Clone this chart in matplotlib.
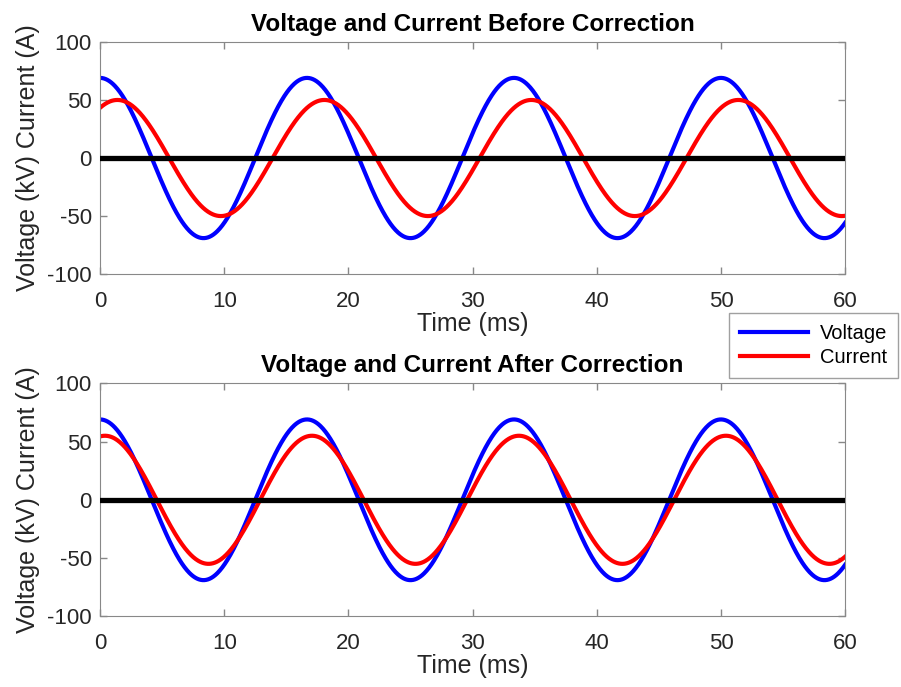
import numpy as np
import matplotlib.pyplot as plt

plt.rcParams['font.family'] = ['Liberation Sans', 'DejaVu Sans']
plt.rcParams['axes.unicode_minus'] = False

# signal parameters
freq_hz = 60
v_amp = 69            # kV
i_amp_before = 50     # A
i_lag_before = 1.4    # ms
i_amp_after = 55      # A
i_lag_after = 0.4     # ms

t_ms = np.linspace(0, 60, 1201)
titles = ['Voltage and Current Before Correction',
          'Voltage and Current After Correction']
xticks = [0, 10, 20, 30, 40, 50, 60]
yticks = [-100, -50, 0, 50, 100]

w = 2 * np.pi * freq_hz / 1000.0
voltage = v_amp * np.cos(w * t_ms)
current_before = i_amp_before * np.cos(w * (t_ms - i_lag_before))
current_after = i_amp_after * np.cos(w * (t_ms - i_lag_after))

fig = plt.figure(figsize=(9.01, 6.87), dpi=100)
ax1 = fig.add_axes([0.111, 0.601, 0.827, 0.338])
ax2 = fig.add_axes([0.111, 0.103, 0.827, 0.339])

for ax, cur, title in [(ax1, current_before, titles[0]), (ax2, current_after, titles[1])]:
    ax.plot(t_ms, voltage, color='#0000ff', lw=3, label='Voltage')
    ax.plot(t_ms, cur, color='#ff0000', lw=3, label='Current')
    ax.axhline(0, color='black', lw=3.8, zorder=3)
    ax.set_xlim(0, 60)
    ax.set_ylim(-100, 100)
    ax.set_xticks(xticks)
    ax.set_yticks(yticks)
    ax.tick_params(direction='in', top=True, right=True, length=5, width=1,
                   color='#888888', labelsize=16, labelcolor='#262626', pad=6)
    ax.tick_params(axis='x', pad=12)
    for s in ax.spines.values():
        s.set_color('#888888')
    ax.set_title(title, fontsize=17.5, fontweight='bold', pad=8)
    ax.set_xlabel('Time (ms)', fontsize=18, color='#262626', labelpad=0)
    ax.set_ylabel('Voltage (kV) Current (A)', fontsize=18, color='#262626', labelpad=5)

handles, labels = ax1.get_legend_handles_labels()
leg = fig.legend(handles, labels, loc='upper left', bbox_to_anchor=(0.809, 0.545),
                 fontsize=14.5, frameon=True, fancybox=False, handlelength=3.4,
                 borderaxespad=0, labelspacing=0.25, handletextpad=0.55, borderpad=0.55)
leg.get_frame().set_edgecolor('#888888')
leg.get_frame().set_linewidth(1)

fig.savefig('out.png', dpi=100)
